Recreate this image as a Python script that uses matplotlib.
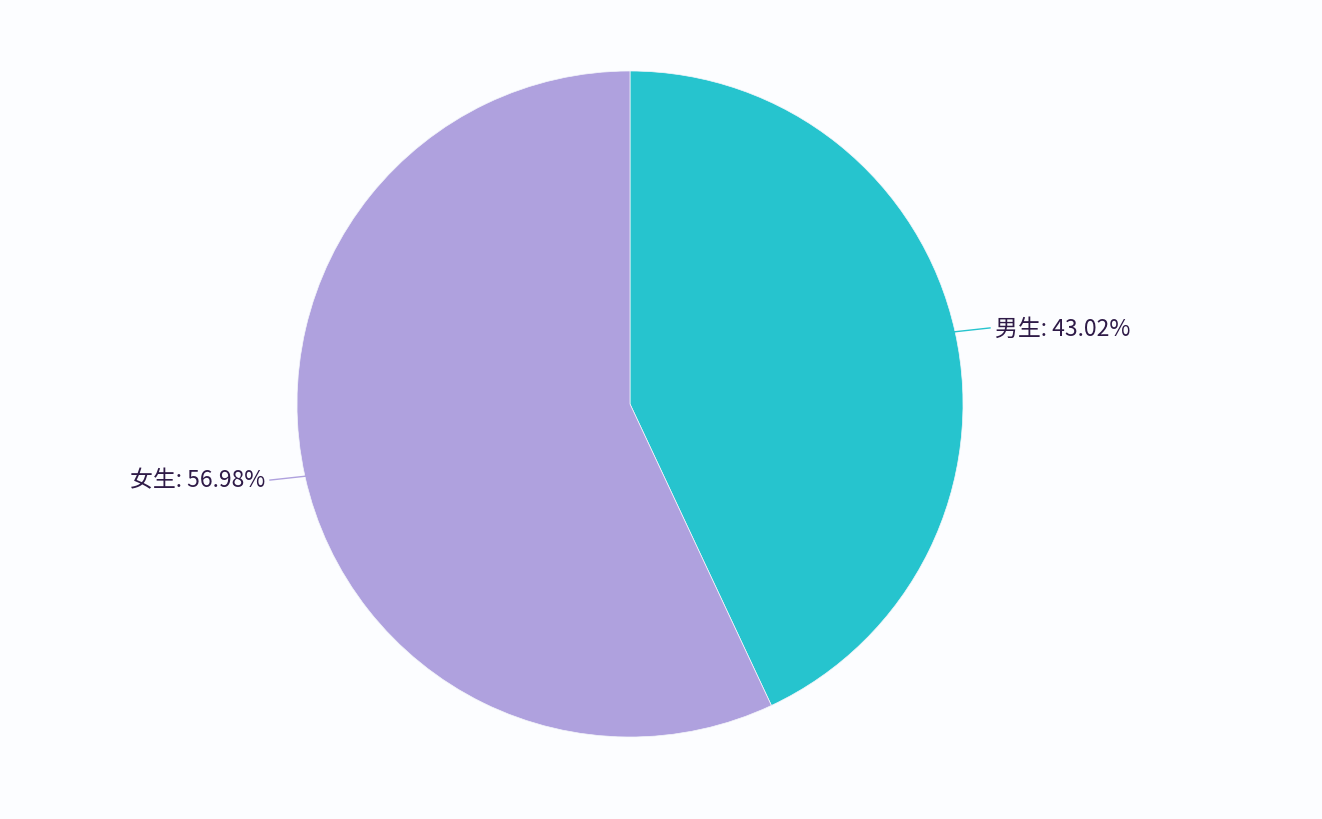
import numpy as np
import matplotlib.pyplot as plt

plt.rcParams['font.family'] = ['Noto Sans CJK SC', 'DejaVu Sans']

labels = ["男生", "女生"]
values = [43.02, 56.98]
colors = ["#26C4CE", "#AFA1DE"]

W, H = 1322, 820
cx, cy, r = 630, 405, 333

fig = plt.figure(figsize=(W / 100, H / 100), dpi=100)
fig.patch.set_facecolor("#FCFDFF")
ax = fig.add_axes([0, 0, 1, 1])
ax.set_facecolor("#FCFDFF")

wedges, _ = ax.pie(values, colors=colors, startangle=90, counterclock=False,
                   radius=1, wedgeprops=dict(edgecolor="#F4F6FB", linewidth=0.5))

for w, lab, val, col in zip(wedges, labels, values, colors):
    mid = np.deg2rad((w.theta1 + w.theta2) / 2)
    x0, y0 = 0.995 * np.cos(mid), 0.995 * np.sin(mid)
    side = 1 if np.cos(mid) > 0 else -1
    x1 = x0 + side * 0.11
    y1 = y0 + 0.012 * side
    ax.plot([x0, x1], [y0, y1], color=col, lw=1)
    ax.text(x1 + side * 0.015, y1, f"{lab}: {val:.2f}%", fontsize=16.5,
            color="#2E1A47", va="center", ha="left" if side > 0 else "right")

ax.set_xlim(-cx / r, (W - cx) / r)
ax.set_ylim(-(H - cy) / r, cy / r)
ax.set_aspect("equal")
ax.axis("off")

fig.savefig("out.png", dpi=100, facecolor=fig.get_facecolor())
